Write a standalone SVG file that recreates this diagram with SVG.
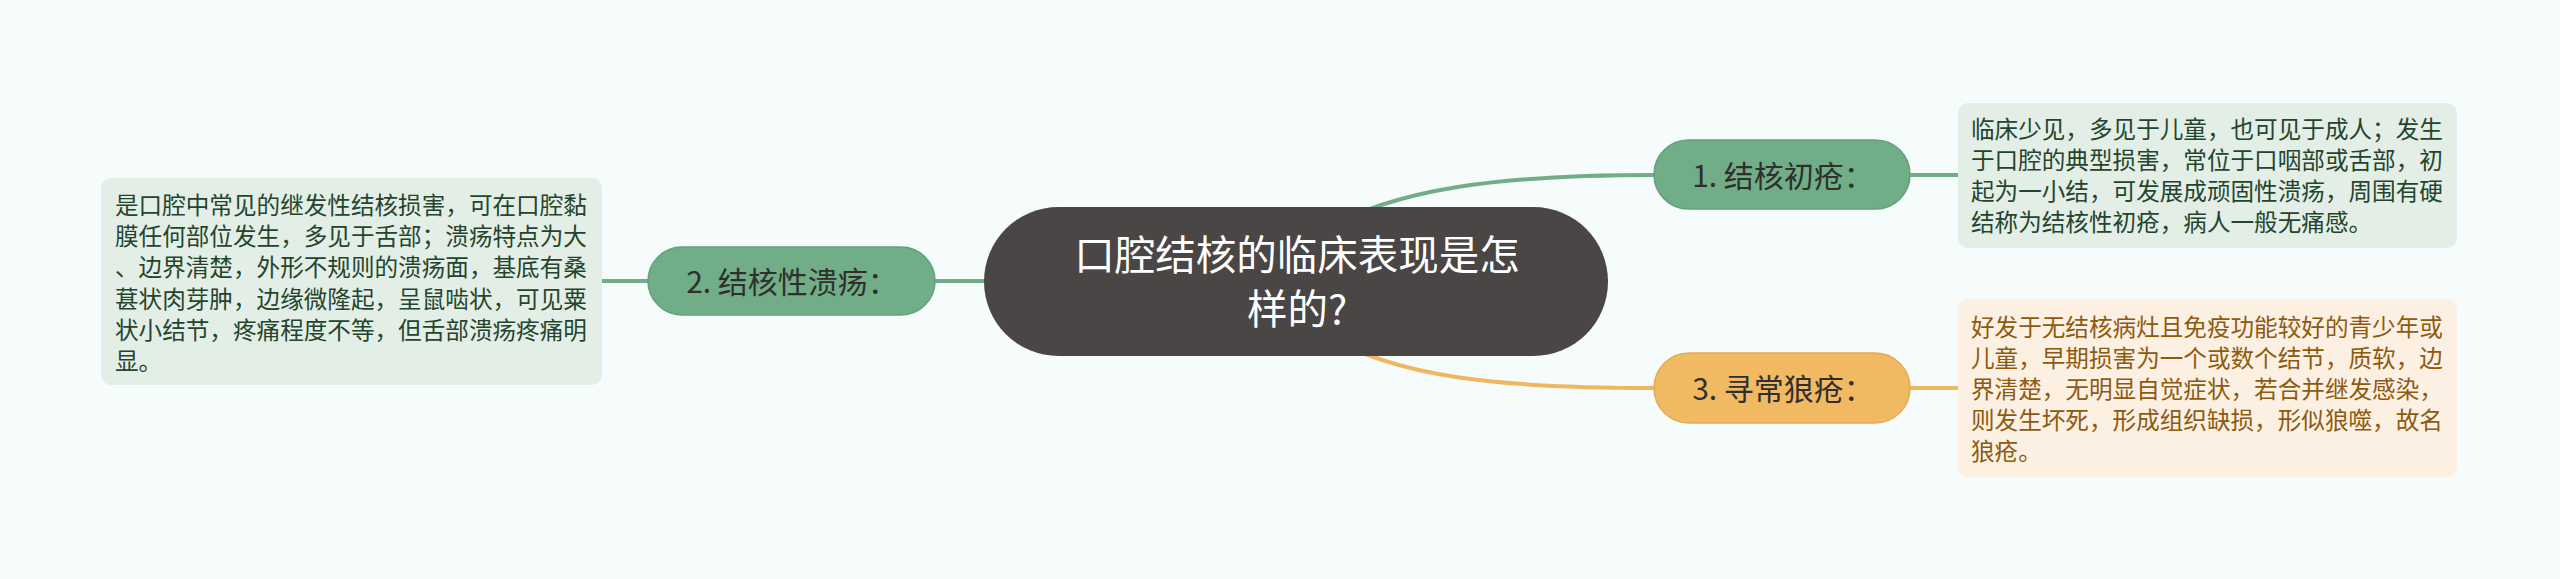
<svg xmlns="http://www.w3.org/2000/svg" width="2560" height="579" viewBox="0 0 2560 579">
<style>
.bg{fill:#f6fbfb}
.t{font-family:"Noto Sans CJK SC","Noto Sans",sans-serif}
.center{fill:#4b4646}
.ct{fill:#ffffff;font-size:40.5px;text-anchor:middle}
.gnode{fill:#71ae87;stroke:#66a07b;stroke-width:1.5}
.onode{fill:#f1b961;stroke:#e3ab55;stroke-width:1.5}
.nt{fill:#2f2f2f;font-size:30px;text-anchor:middle}
.gbox{fill:#e3eee6}
.obox{fill:#fcf0e2}
.gt{fill:#24452d;font-size:23.6px}
.ot{fill:#8c5a10;font-size:23.6px}
.gl{stroke:#71ae87;stroke-width:4;fill:none}
.ol{stroke:#f0b761;stroke-width:4;fill:none}
</style>
<rect class="bg" x="0" y="0" width="2560" height="579"/>
<g id="connectors">
<path class="gl" d="M1320 232 C1395 188 1500 175 1656 175"/>
<path class="ol" d="M1320 332 C1395 378 1500 388 1656 388"/>
<path class="gl" d="M933 281 L990 281"/>
<path class="gl" d="M600 281 L650 281"/>
<path class="gl" d="M1908 175 L1960 175"/>
<path class="ol" d="M1908 388 L1960 388"/>
</g>
<g id="central">
<rect class="center" x="984" y="207" width="624" height="149" rx="74.5"/>
<text class="t ct" x="1297" y="270">口腔结核的临床表现是怎</text>
<text class="t ct" x="1297" y="324">样的?</text>
</g>
<g id="node1">
<rect class="gnode" x="1654" y="140" width="256" height="69" rx="34.5"/>
<text class="t nt" x="1783" y="187">1. 结核初疮：</text>
</g>
<g id="node3">
<rect class="onode" x="1654" y="353" width="256" height="70" rx="35"/>
<text class="t nt" x="1783" y="400">3. 寻常狼疮：</text>
</g>
<g id="node2">
<rect class="gnode" x="648" y="247" width="287" height="68" rx="34"/>
<text class="t nt" x="792" y="293">2. 结核性溃疡：</text>
</g>
<g id="detail1">
<rect class="gbox" x="1958" y="103" width="499" height="145" rx="10"/>
<text class="t gt" x="1971" y="138">临床少见，多见于儿童，也可见于成人；发生</text>
<text class="t gt" x="1971" y="169">于口腔的典型损害，常位于口咽部或舌部，初</text>
<text class="t gt" x="1971" y="200">起为一小结，可发展成顽固性溃疡，周围有硬</text>
<text class="t gt" x="1971" y="231">结称为结核性初疮，病人一般无痛感。</text>
</g>
<g id="detail3">
<rect class="obox" x="1958" y="299" width="499" height="178" rx="10"/>
<text class="t ot" x="1971" y="336">好发于无结核病灶且免疫功能较好的青少年或</text>
<text class="t ot" x="1971" y="367">儿童，早期损害为一个或数个结节，质软，边</text>
<text class="t ot" x="1971" y="398">界清楚，无明显自觉症状，若合并继发感染，</text>
<text class="t ot" x="1971" y="429">则发生坏死，形成组织缺损，形似狼噬，故名</text>
<text class="t ot" x="1971" y="460">狼疮。</text>
</g>
<g id="detail2">
<rect class="gbox" x="101" y="178" width="501" height="207" rx="10"/>
<text class="t gt" x="115" y="214">是口腔中常见的继发性结核损害，可在口腔黏</text>
<text class="t gt" x="115" y="245">膜任何部位发生，多见于舌部；溃疡特点为大</text>
<text class="t gt" x="115" y="276">、边界清楚，外形不规则的溃疡面，基底有桑</text>
<text class="t gt" x="115" y="308">葚状肉芽肿，边缘微隆起，呈鼠啮状，可见粟</text>
<text class="t gt" x="115" y="339">状小结节，疼痛程度不等，但舌部溃疡疼痛明</text>
<text class="t gt" x="115" y="370">显。</text>
</g>
</svg>
